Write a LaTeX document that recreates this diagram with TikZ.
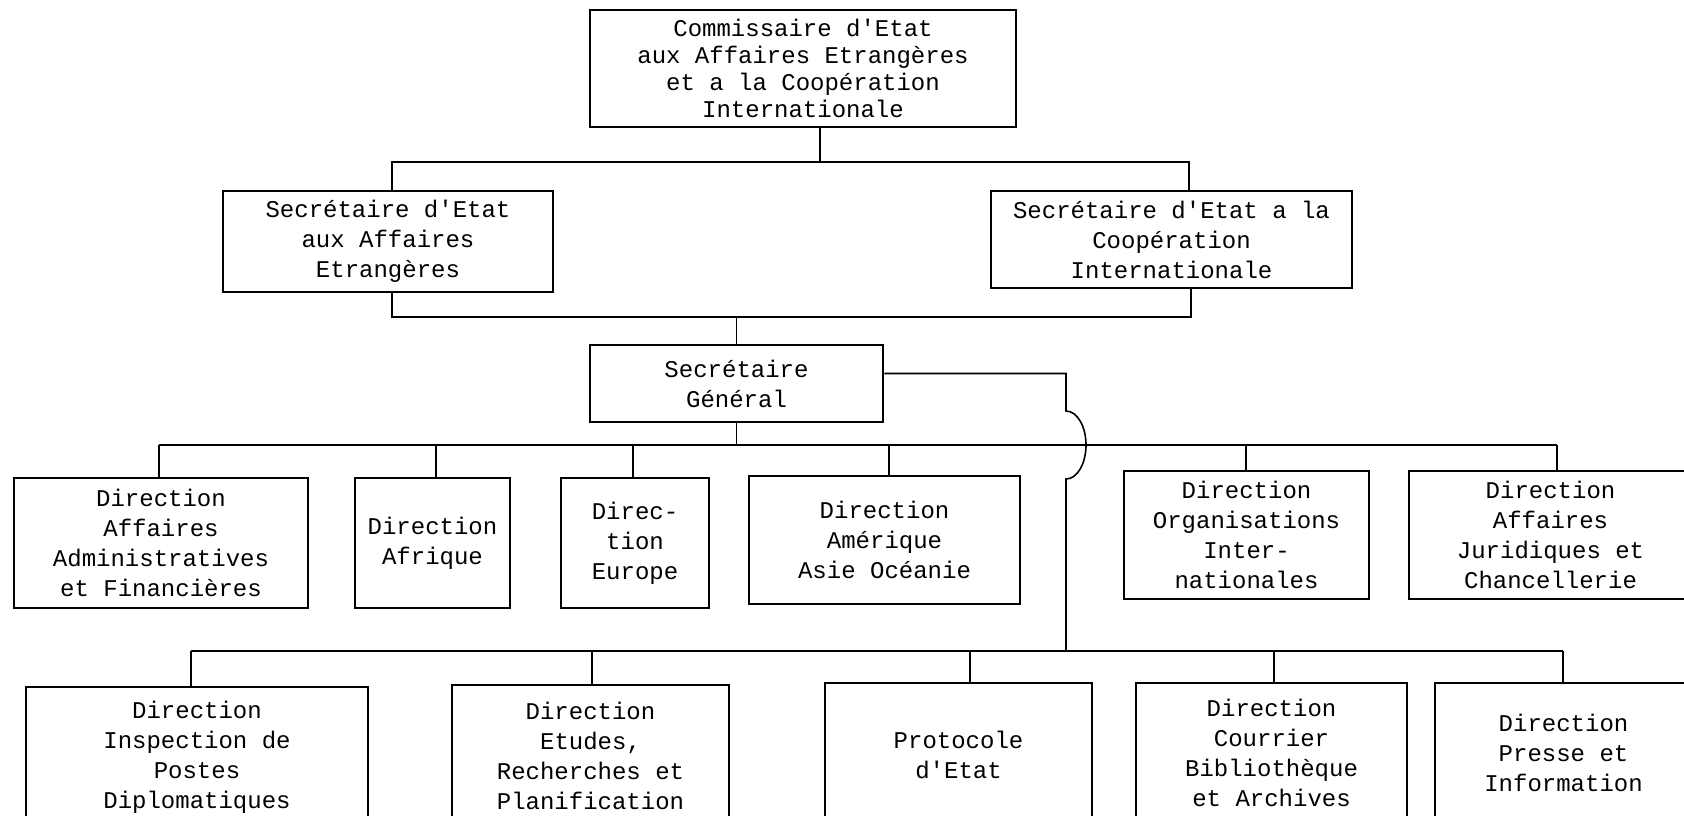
\documentclass[tikz,border=0pt]{standalone}
\usepackage{fontspec}
\newfontfamily\typew{Liberation Mono}
\begin{document}
\begin{tikzpicture}[x=0.5pt, y=-0.5pt,
    box/.style={draw, line width=1.3pt, align=center, inner sep=0pt,
        font=\typew\fontsize{12}{15}\selectfont},
    wire/.style={line width=0.8pt}]
    \useasboundingbox (0,0) rectangle (1684,815);
    \clip (0,0) rectangle (1684,815);
    \node[box, minimum width=213pt, minimum height=58.5pt, font=\typew\fontsize{12}{13.5}\selectfont] (comm) at (803,68.5)
        {Commissaire d'Etat\\aux Affaires Etrangères\\et a la Coopération\\Internationale};
    \node[box, minimum width=165pt, minimum height=50.5pt] (seca) at (388,241.5)
        {Secrétaire d'Etat\\aux Affaires\\Etrangères};
    \node[box, minimum width=180.5pt, minimum height=48.5pt] (secb) at (1171.5,239.5)
        {Secrétaire d'Etat a la\\Coopération\\Internationale};
    \node[box, minimum width=146.5pt, minimum height=38.5pt] (sg) at (736.5,383.5)
        {Secrétaire\\Général};
    \node[box, minimum width=147pt, minimum height=65pt] (dafin) at (161,543)
        {Direction\\Affaires\\Administratives\\et Financières};
    \node[box, minimum width=77.5pt, minimum height=65pt] (dafr) at (432.5,543)
        {Direction\\Afrique};
    \node[box, minimum width=74pt, minimum height=65pt] (deur) at (635,543)
        {Direc-\\tion\\Europe};
    \node[box, minimum width=135.5pt, minimum height=64pt] (dameri) at (884.5,540)
        {Direction\\Amérique\\Asie Océanie};
    \node[box, minimum width=122.5pt, minimum height=64pt] (dorg) at (1246.5,535)
        {Direction\\Organisations\\Inter-\\nationales};
    \node[box, minimum width=141.5pt, minimum height=64pt] (djur) at (1550.5,535)
        {Direction\\Affaires\\Juridiques et\\Chancellerie};
    \node[box, minimum width=171pt, minimum height=70pt] (dinsp) at (197,757)
        {Direction\\Inspection de\\Postes\\Diplomatiques};
    \node[box, minimum width=138.5pt, minimum height=70.5pt] (detu) at (590.5,755.5)
        {Direction\\Etudes,\\Recherches et\\Planification};
    \node[box, minimum width=133.5pt, minimum height=72pt] (dproto) at (958.5,755)
        {Protocole\\d'Etat};
    \node[box, minimum width=135.5pt, minimum height=70pt] (dcour) at (1271.5,753)
        {Direction\\Courrier\\Bibliothèque\\et Archives};
    \node[box, minimum width=128.5pt, minimum height=70pt] (dpres) at (1563.5,753)
        {Direction\\Presse et\\Information};
    \coordinate (uc) at (820,162);
    \coordinate (ua) at (392,162);
    \coordinate (ub) at (1189,162);
    \draw[wire] (comm.south -| uc) -- (uc);
    \draw[wire] (ua |- seca.north) -- (ua) -- (ub) -- (ub |- secb.north);
    \coordinate (la) at (392,317);
    \coordinate (lb) at (1191,317);
    \draw[wire] (la |- seca.south) -- (la) -- (lb) -- (lb |- secb.south);
    \draw[wire] (la -| sg.north) -- (sg.north);
    \coordinate (ba) at (159,445);
    \coordinate (bb) at (1557,445);
    \draw[wire] (ba) -- (bb);
    \draw[wire] (sg.south) -- (sg.south |- ba);
    \foreach \n/\x in {dafin/159, dafr/436, deur/633, dameri/889, dorg/1246, djur/1557} {
        \coordinate (t) at (\x,445);
        \draw[wire] (t) -- (t |- \n.north);
    }
    \coordinate (ca) at (191,651);
    \coordinate (cb) at (1563,651);
    \draw[wire] (ca) -- (cb);
    \foreach \n/\x in {dinsp/191, detu/592, dproto/970, dcour/1274, dpres/1563} {
        \coordinate (t) at (\x,651);
        \draw[wire] (t) -- (t |- \n.north);
    }
    \coordinate (ja) at (1066,411);
    \coordinate (jc) at (1066,651);
    \draw[wire] ([yshift=5pt]sg.east) -| (ja)
        arc[start angle=90, end angle=-90, x radius=10pt, y radius=17pt] -- (jc);
\end{tikzpicture}
\end{document}
